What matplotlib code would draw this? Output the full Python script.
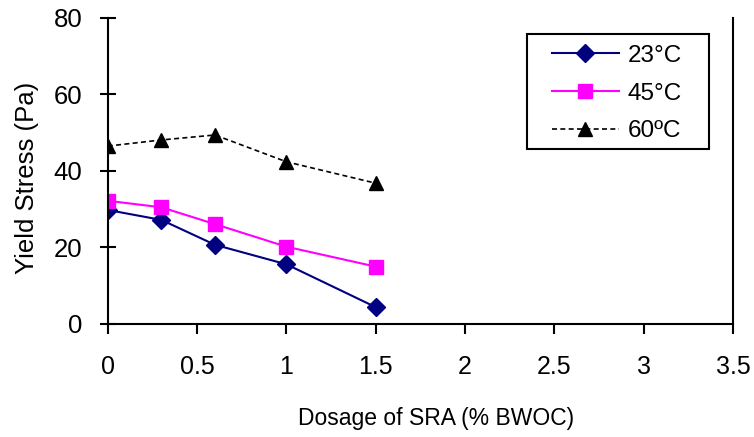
import numpy as np
import matplotlib
matplotlib.use("Agg")
import matplotlib.pyplot as plt
from matplotlib.patches import Rectangle

plt.rcParams['font.family'] = ['Liberation Sans', 'DejaVu Sans']

# ---------------- data ----------------
dosage = [0, 0.3, 0.6, 1.0, 1.5]
ys_23 = [29.8, 27.2, 20.7, 15.6, 4.4]
ys_45 = [32.2, 30.5, 26.1, 20.2, 15.0]
ys_60 = [46.5, 48.1, 49.4, 42.4, 36.8]
series_labels = ['23°C', '45°C', '60ºC']
x_ticks = [0, 0.5, 1, 1.5, 2, 2.5, 3, 3.5]
x_tick_labels = ['0', '0.5', '1', '1.5', '2', '2.5', '3', '3.5']
y_ticks = [0, 20, 40, 60, 80]

# ---------------- figure ----------------
fig = plt.figure(figsize=(7.54, 4.37), dpi=100)
ax = fig.add_axes([0.143, 0.2586, 0.829, 0.7004])

ax.plot(dosage, ys_23, color='#000080', lw=1.5, marker='D', ms=9.5,
        label=series_labels[0])
ax.plot(dosage, ys_45, color='#FF00FF', lw=1.5, marker='s', ms=10.5,
        label=series_labels[1])
ax.plot(dosage, ys_60, color='black', lw=1.2, ls=(0, (3, 2)), marker='^',
        ms=10.5, label=series_labels[2])

ax.set_xlim(0, 3.5)
ax.set_ylim(0, 80)
ax.set_xticks(x_ticks)
ax.set_xticklabels(x_tick_labels)
ax.set_yticks(y_ticks)

for sp in ['left', 'bottom', 'right']:
    ax.spines[sp].set_linewidth(1.5)
ax.spines['top'].set_visible(False)

ax.tick_params(axis='x', direction='out', length=7, width=1.5, pad=15,
               labelsize=18)
ax.tick_params(axis='y', direction='inout', length=11, width=1.5, pad=13,
               labelsize=18.5, right=False)

ax.set_xlabel('Dosage of SRA (% BWOC)', fontsize=16.5)
ax.xaxis.set_label_coords(0.525, -0.271)
ax.set_ylabel('Yield Stress (Pa)', fontsize=18.5)
ax.yaxis.set_label_coords(-0.1104, 0.479)

# legend box (Excel style)
ax.add_patch(Rectangle((0.670, 0.572), 0.2912, 0.376, transform=ax.transAxes,
                       fill=False, edgecolor='black', lw=1.5, clip_on=False,
                       zorder=5))
leg = ax.legend(loc='upper left', bbox_to_anchor=(0.7104, 0.912),
                fontsize=17.5, frameon=False, handlelength=2.75,
                borderpad=0, labelspacing=0.65, handletextpad=0.37,
                borderaxespad=0)

fig.savefig('out.png', dpi=100)
